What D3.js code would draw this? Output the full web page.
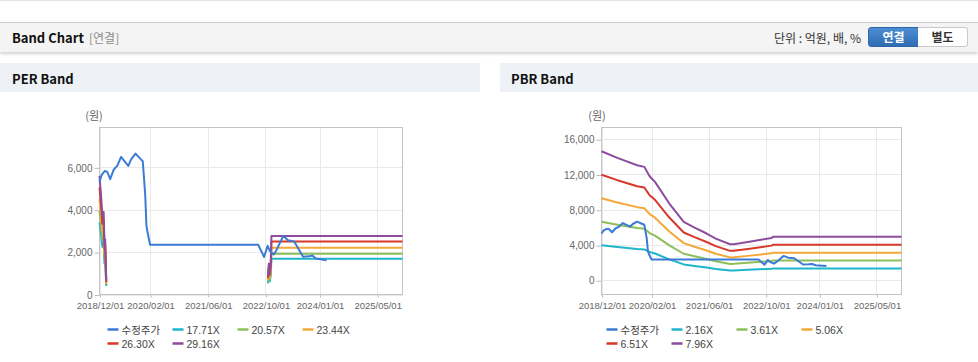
<!DOCTYPE html>
<html>
<head>
<meta charset="utf-8">
<script src="https://cdn.jsdelivr.net/npm/d3@7"></script>
<style>
  body { margin: 0; width: 978px; height: 362px; position: relative; overflow: hidden; background: #fff;
         font-family: "Noto Sans CJK KR", "Liberation Sans", sans-serif; }
  .topline { position: absolute; left: 0; top: 0; width: 978px; height: 1px; background: #e3e3e3; }
  .bandhead { position: absolute; left: 0; top: 22px; width: 978px; height: 29px; background: #f4f4f4;
              border-top: 1px solid #cdcdcd; box-shadow: 0 2px 3px rgba(0,0,0,0.18); }
  .bandhead .ttl { position: absolute; left: 12px; top: 5px; font-size: 13px; font-weight: bold; color: #111; }
  .bandhead .sub { position: absolute; left: 89px; top: 6px; font-size: 12px; color: #8a8a8a; }
  .bandhead .unit { position: absolute; right: 117px; top: 6px; font-size: 12px; color: #333; }
  .btn { position: absolute; top: 4px; height: 18px; line-height: 18px; text-align: center;
         font-size: 12px; font-weight: bold; }
  .btn.on { left: 868px; width: 49px; color: #fff; border: 1px solid #2d66a8; border-radius: 3px 0 0 3px;
            background: linear-gradient(#4d8dd3, #2f6db3); }
  .btn.off { left: 918px; width: 49px; color: #333; border: 1px solid #c9c9c9; border-left: none;
             border-radius: 0 3px 3px 0; background: #fff; }
  .sechead { position: absolute; top: 63px; height: 29px; background: #eef2f7; }
  .sechead span { position: absolute; left: 12px; top: 6px; font-size: 13px; font-weight: bold; color: #111; }
  svg { position: absolute; left: 0; top: 0; }
</style>
</head>
<body>
<div class="topline"></div>
<div class="bandhead">
  <span class="ttl">Band Chart</span>
  <span class="sub">[연결]</span>
  <span class="unit">단위 : 억원, 배, %</span>
  <div class="btn on">연결</div>
  <div class="btn off">별도</div>
</div>
<div class="sechead" style="left:0;width:480px;"><span>PER Band</span></div>
<div class="sechead" style="left:500px;width:478px;"><span style="left:11px;">PBR Band</span></div>
<div id="charts"></div>
<script>
(function() {
    'use strict';

    // ---- data ----
    var xTickDates = ['2018/12/01', '2020/02/01', '2021/06/01', '2022/10/01', '2024/01/01', '2025/05/01'];
    var xStart = '2018/12/01', xEnd = '2025/12/01';

    var seriesColors = ['#3b7bd6', '#1db6cc', '#8dbf58', '#f3a838', '#d7382b', '#8d4c9d'];

    var priceDates = ['2018/12/01', '2018/12/20', '2019/01/15', '2019/02/05', '2019/03/01', '2019/04/01',
        '2019/05/01', '2019/06/01', '2019/08/01', '2019/08/25', '2019/10/01', '2019/11/10', '2019/12/01',
        '2019/12/12', '2019/12/22', '2020/01/01', '2020/01/10', '2020/02/01', '2022/08/01', '2022/09/20',
        '2022/10/20', '2022/11/05', '2022/12/10', '2023/01/01', '2023/03/01', '2023/04/10', '2023/06/01',
        '2023/08/15', '2023/10/01', '2023/11/01', '2023/12/01', '2024/03/01'];
    var priceValues = [5300, 5650, 5830, 5780, 5440, 5900, 6080, 6490, 6070, 6380, 6650, 6410, 6290,
        5470, 4680, 3260, 2950, 2350, 2350, 1770, 2300, 2080, 1890, 2080, 2760, 2560, 2500,
        1780, 1800, 1840, 1700, 1610];

    // PER band (null = no data)
    var perLegend = ['수정주가', '17.71X', '20.57X', '23.44X', '26.30X', '29.16X'];
    var perDates = ['2018/12/01', '2018/12/15', '2018/12/25', '2019/01/05', '2019/01/12', '2019/01/18',
        '2019/01/27', '2020/06/01', '2022/10/22', '2022/10/30', '2022/11/07', '2022/11/15', '2022/11/21',
        '2025/12/01'];
    var per1771 = [3400, 2790, 2250, 2370, 1460, 1580, 400, null, 520, 880, 620, 900, 1690, 1690];
    var per2057 = [3950, 3240, 2610, 2750, 1690, 1830, 460, null, 600, 1020, 720, 1050, 1920, 1920];
    var per2344 = [4500, 3700, 2970, 3140, 1930, 2090, 520, null, 690, 1170, 820, 1200, 2210, 2210];
    var per2630 = [5050, 4150, 3340, 3520, 2160, 2350, 590, null, 770, 1310, 920, 1340, 2500, 2500];
    var per2916 = [5600, 4600, 3700, 3900, 2400, 2600, 650, null, 850, 1450, 1020, 1490, 2760, 2760];
    var perYTicks = [0, 2000, 4000, 6000];

    // PBR band
    var pbrLegend = ['수정주가', '2.16X', '3.61X', '5.06X', '6.51X', '7.96X'];
    var pbrDates = ['2018/12/01', '2019/04/15', '2019/10/01', '2019/12/01', '2020/01/15', '2020/03/01',
        '2020/07/01', '2020/11/01', '2021/02/01', '2021/05/15', '2021/08/01', '2021/12/01', '2022/01/01',
        '2022/05/01', '2022/11/20', '2022/12/01', '2025/12/01'];
    var pbr216 = [3972, 3767, 3540, 3491, 3201, 3028, 2361, 1797, 1622, 1439, 1283, 1106, 1110, 1179, 1302, 1335, 1335];
    var pbr361 = [6639, 6296, 5917, 5834, 5350, 5061, 3946, 3004, 2711, 2404, 2144, 1848, 1856, 1971, 2177, 2231, 2231];
    var pbr506 = [9305, 8825, 8293, 8177, 7499, 7094, 5531, 4210, 3800, 3370, 3006, 2591, 2601, 2763, 3051, 3127, 3127];
    var pbr651 = [11972, 11353, 10670, 10520, 9648, 9127, 7115, 5416, 4889, 4336, 3867, 3333, 3346, 3554, 3926, 4023, 4023];
    var pbr796 = [14638, 13882, 13046, 12863, 11797, 11160, 8700, 6623, 5978, 5301, 4728, 4076, 4091, 4346, 4800, 4919, 4919];
    var pbrYTicks = [0, 4000, 8000, 12000, 16000];

    var parseDate = d3.timeParse('%Y/%m/%d');

    var svg = d3.select('#charts')
      .append('svg')
        .attr('width', 978)
        .attr('height', 362);

    function zip(dates, values) {
        return dates.map(function(d, i) { return {date: parseDate(d), v: values[i]}; });
    }

    function drawBand(cfg) {

        var x = d3.scaleTime()
          .domain([parseDate(xStart), parseDate(xEnd)])
          .range([cfg.left, cfg.right]);

        var y = d3.scaleLinear()
          .domain(cfg.yDomain)
          .range([cfg.bottom, cfg.top]);

        var chart = svg.append('g');

        // grid
        chart.append('g')
        .selectAll('line')
        .data(cfg.yTicks)
        .enter().append('line')
          .attr('x1', cfg.left)
          .attr('x2', cfg.right)
          .attr('y1', function(d) { return Math.round(y(d)) + 0.5; })
          .attr('y2', function(d) { return Math.round(y(d)) + 0.5; })
          .attr('stroke', '#e9e9e9');

        chart.append('g')
        .selectAll('line')
        .data(xTickDates.map(parseDate))
        .enter().append('line')
          .attr('x1', function(d) { return Math.round(x(d)) + 0.5; })
          .attr('x2', function(d) { return Math.round(x(d)) + 0.5; })
          .attr('y1', cfg.top)
          .attr('y2', cfg.bottom)
          .attr('stroke', '#e9e9e9');

        // frame
        chart.append('rect')
          .attr('x', cfg.left)
          .attr('y', cfg.top)
          .attr('width', cfg.right - cfg.left)
          .attr('height', cfg.bottom - cfg.top)
          .attr('fill', 'none')
          .attr('stroke', '#c4c4c4');

        var yAxis = d3.axisLeft(y)
          .tickValues(cfg.yTicks)
          .tickFormat(d3.format(','))
          .tickSize(5)
          .tickPadding(2);

        var gy = chart.append('g')
          .attr('transform', 'translate(' + cfg.left + ',0.5)')
        .call(yAxis);
        gy.select('.domain').remove();
        gy.selectAll('line').attr('stroke', '#bdbdbd');
        gy.selectAll('text')
          .attr('fill', '#666')
          .style('font-family', '"Liberation Sans", Arial, sans-serif')
          .style('font-size', '10px');

        var xAxis = d3.axisBottom(x)
          .tickValues(xTickDates.map(parseDate))
          .tickFormat(d3.timeFormat('%Y/%m/%d'))
          .tickSize(3)
          .tickPadding(5);

        var gx = chart.append('g')
          .attr('transform', 'translate(0.5,' + cfg.bottom + ')')
        .call(xAxis);
        gx.select('.domain').remove();
        gx.selectAll('line').attr('stroke', '#bdbdbd');
        gx.selectAll('text')
          .attr('fill', '#666')
          .style('font-family', '"Liberation Sans", Arial, sans-serif')
          .style('font-size', '9.5px');

        // unit label
        chart.append('text')
          .attr('x', cfg.unitX)
          .attr('y', 120)
          .attr('text-anchor', 'middle')
          .attr('fill', '#666')
          .style('font-size', '11px')
          .text('(원)');

        var lineGen = d3.line()
          .defined(function(d) { return d.v !== null; })
          .x(function(d) { return x(d.date); })
          .y(function(d) { return y(d.v); });

        var series = [zip(priceDates, priceValues)].concat(cfg.bands.map(function(b) {
            return zip(cfg.dates, b);
        }));

        // bands first, price on top
        var order = [1, 2, 3, 4, 5, 0];
        chart.append('g')
        .selectAll('path')
        .data(order)
        .enter().append('path')
          .attr('d', function(i) { return lineGen(series[i]); })
          .attr('fill', 'none')
          .attr('stroke', function(i) { return seriesColors[i]; })
          .attr('stroke-width', 2)
          .attr('stroke-linejoin', 'round');

        // legend
        var legend = chart.append('g')
        .selectAll('g')
        .data(cfg.labels)
        .enter().append('g')
          .attr('transform', function(d, i) {
              return 'translate(' + (cfg.legendX + (i % 4) * 65) + ',' + (329.5 + Math.floor(i / 4) * 14) + ')';
          });

        legend.append('line')
          .attr('x1', 0)
          .attr('x2', 11)
          .attr('stroke', function(d, i) { return seriesColors[i]; })
          .attr('stroke-width', 2.5);

        legend.append('text')
          .attr('x', 14)
          .attr('y', 4)
          .attr('fill', '#444')
          .style('font-family', '"Liberation Sans", Arial, "Noto Sans CJK KR", sans-serif')
          .style('font-size', '10.5px')
          .text(function(d) { return d; });
    }

    drawBand({
        left: 99.5, right: 402.5, top: 127.5, bottom: 294.5,
        yDomain: [0, 7880], yTicks: perYTicks,
        dates: perDates, bands: [per1771, per2057, per2344, per2630, per2916],
        labels: perLegend, legendX: 107.5, unitX: 94
    });

    drawBand({
        left: 601.5, right: 901.5, top: 127.5, bottom: 294.5,
        yDomain: [-1620, 17330], yTicks: pbrYTicks,
        dates: pbrDates, bands: [pbr216, pbr361, pbr506, pbr651, pbr796],
        labels: pbrLegend, legendX: 606.5, unitX: 597
    });

})();
</script>
</body>
</html>
